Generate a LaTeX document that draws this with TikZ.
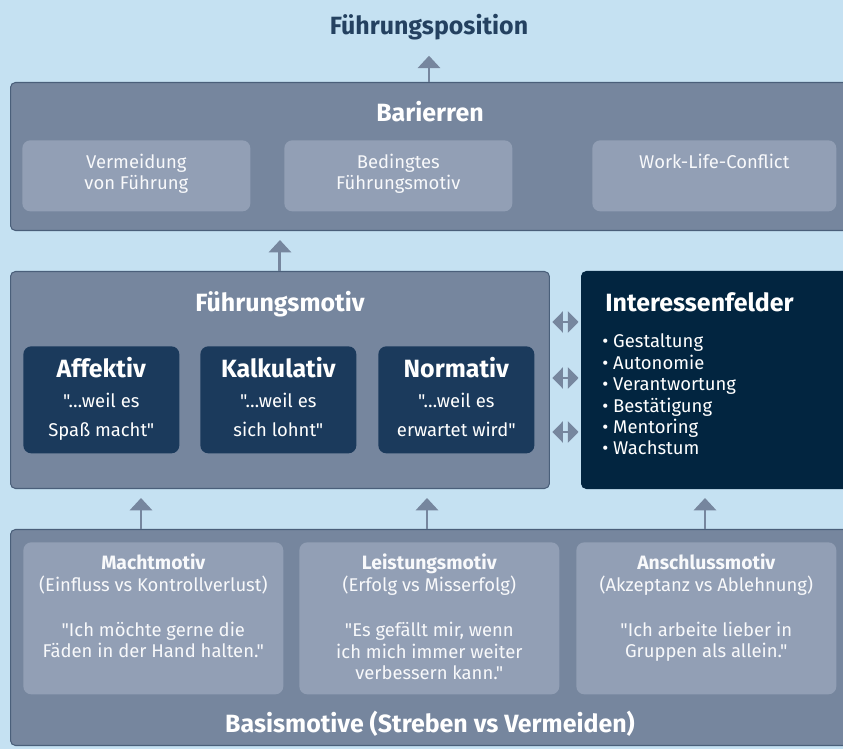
\documentclass[tikz,border=0pt]{standalone}
\usepackage{fontspec}
\setmainfont{Fira Sans}[Ligatures=TeXOff]
\usepackage{tikz}
\usetikzlibrary{calc}
\usetikzlibrary{arrows.meta}
\definecolor{skyblue}{HTML}{C5E1F2}
\definecolor{slate}{HTML}{76869E}
\definecolor{rim}{HTML}{4A5F7A}
\definecolor{pale}{HTML}{929FB5}
\definecolor{navy}{HTML}{1B3A5C}
\definecolor{deepnavy}{HTML}{022540}
\definecolor{titleblue}{HTML}{244160}
\newcommand{\headfont}{\bfseries\fontsize{14.2}{17}\selectfont}
\tikzset{
  panel/.style={draw=rim, fill=slate, line width=0.6pt, rounded corners=2.8pt, anchor=north west, inner sep=0pt},
  tile/.style={fill=pale, rounded corners=4.5pt, anchor=north west, inner sep=0pt},
  navytile/.style={fill=navy, rounded corners=4.5pt, anchor=north west, inner sep=0pt},
  headline/.style={text=white, font=\headfont, anchor=base},
  tiletext/.style={text=white!94!pale, font=\fontsize{10.5}{12.5}\selectfont, align=center, anchor=base},
  uparrow/.style={draw=slate, line width=1.7pt, -{Triangle[width=12.5pt,length=7pt]}, shorten >=0.18cm},
  dblarrow/.style={draw=slate, line width=1.2pt, {Triangle[width=12pt,length=6pt]}-{Triangle[width=12pt,length=6pt]}, shorten >=0.05cm, shorten <=0.05cm}
}

\begin{document}
\begin{tikzpicture}[x=0.02cm,y=-0.02cm]
    \useasboundingbox (0,0) rectangle (843,749);
    \clip (0,0) rectangle (843,749);
    \fill[skyblue] (0,0) rectangle (843,749);

    %top
    \node[text=titleblue, font=\headfont, anchor=base] (pos) at (429,35) {Führungsposition};

    %barriers
    \node[panel, minimum width=17cm, minimum height=2.96cm] (bar) at (10,82) {};
    \node[headline] (bar-title) at (430,122) {Barierren};
    \node[tile, minimum width=4.56cm, minimum height=1.42cm] (bar1) at (22,140) {};
    \node[tile, minimum width=4.56cm, minimum height=1.42cm] (bar2) at (284,140) {};
    \node[tile, minimum width=4.88cm, minimum height=1.42cm] (bar3) at (592,140) {};
    \node[tiletext] (bar1-text) at ($(bar1.north)+(0,50)$) {Vermeidung\\von Führung};
    \node[tiletext] (bar2-text) at ($(bar2.north)+(0,50)$) {Bedingtes\\Führungsmotiv};
    \node[tiletext] (bar3-text) at ($(bar3.north)+(0,29)$) {Work-Life-Conflict};

    %motive
    \node[panel, minimum width=10.78cm, minimum height=4.34cm] (mot) at (10,271) {};
    \node[headline] (mot-title) at (280,312) {Führungsmotiv};
    \foreach \name/\x/\head/\txt in {aff/23/Affektiv/{"…weil es\\Spaß macht"},
                                     kal/200/Kalkulativ/{"…weil es\\sich lohnt"},
                                     nor/378/Normativ/{"…weil es\\erwartet wird"}} {
        \node[navytile, minimum width=3.12cm, minimum height=2.14cm] (\name) at (\x,346) {};
        \node[tiletext, text=white, font=\fontsize{10.5}{17}\selectfont] (\name-text)
            at ($(\name.north)+(0,91)$) {{\headfont\head}\\\txt};
    }

    %interests
    \node[panel, draw=deepnavy, fill=deepnavy, minimum width=5.6cm, minimum height=4.34cm] (int) at (581,271) {};
    \node[headline, anchor=base west, inner sep=0pt] (int-title) at (605,312) {Interessenfelder};
    \node[tiletext, text=white, align=left, anchor=base west, inner sep=0pt, font=\fontsize{10.5}{12.2}\selectfont] (int-list) at (602,455)
        {• Gestaltung\\• Autonomie\\• Verantwortung\\• Bestätigung\\• Mentoring\\• Wachstum};

    %basic motives
    \node[panel, minimum width=17cm, minimum height=4.32cm] (basis) at (10,529) {};
    \node[headline] (basis-title) at (430,733) {Basismotive (Streben vs Vermeiden)};
    \foreach \name/\x/\last/\head/\sub/\txt in {macht/23/116/Machtmotiv/{Einfluss vs Kontrollverlust}/{"Ich möchte gerne die\\Fäden in der Hand halten."},
                                                leist/299/138/Leistungsmotiv/{Erfolg vs Misserfolg}/{"Es gefällt mir, wenn\\ich mich immer weiter\\verbessern kann."},
                                                ansch/576/116/Anschlussmotiv/{Akzeptanz vs Ablehnung}/{"Ich arbeite lieber in\\Gruppen als allein."}} {
        \node[tile, minimum width=5.2cm, minimum height=3.04cm] (\name) at (\x,542) {};
        \node[tiletext] (\name-text) at ($(\name.north)+(0,\last)$)
            {{\bfseries\fontsize{11}{12.5}\selectfont\head}\\(\sub)\\[13pt]\txt};
    }

    %arrows
    \draw[uparrow] (bar.north -| pos.south) -- (pos.south);
    \draw[uparrow] (mot.north) -- (mot.north |- bar.south);
    \coordinate (up1) at (141,0);
    \coordinate (up2) at (427,0);
    \coordinate (up3) at (705,0);
    \draw[uparrow] (basis.north -| up1) -- (mot.south -| up1);
    \draw[uparrow] (basis.north -| up2) -- (mot.south -| up2);
    \draw[uparrow] (basis.north -| up3) -- (int.south -| up3);
    \foreach \y [count=\i] in {322,378,432} {
        \coordinate (dbl\i) at (0,\y);
        \draw[dblarrow] (mot.east |- dbl\i) -- (int.west |- dbl\i);
    }
\end{tikzpicture}
\end{document}
